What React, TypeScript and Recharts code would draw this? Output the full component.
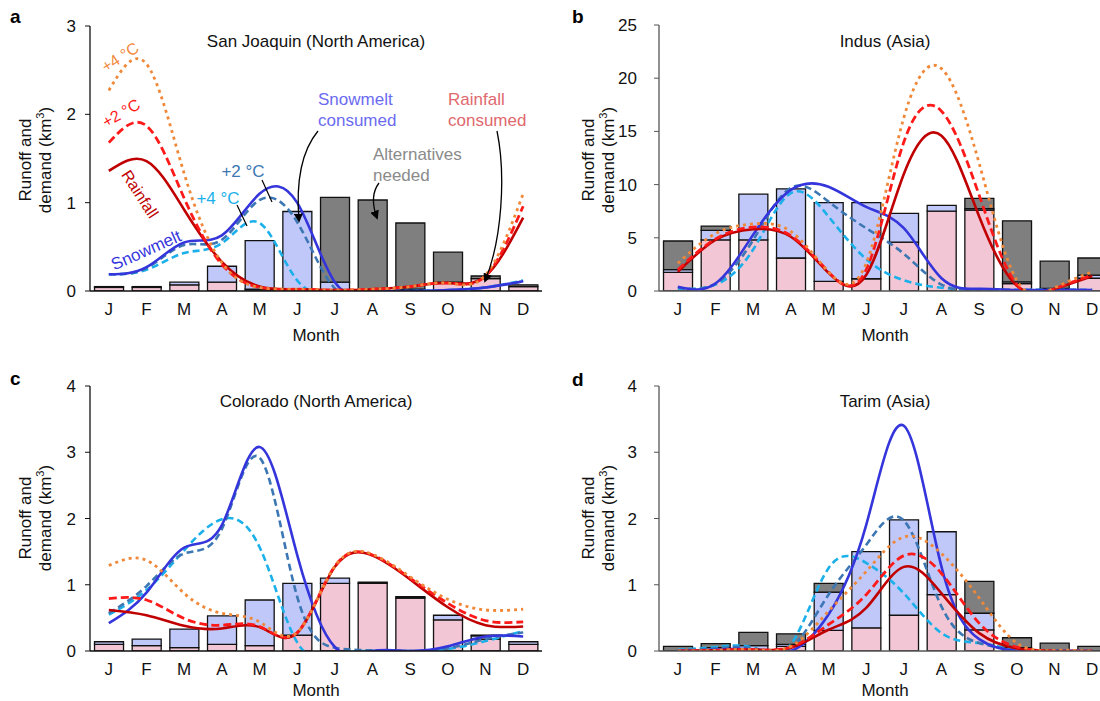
import React from 'react';
import { ComposedChart, Bar, Line, XAxis, YAxis } from 'recharts';

const months = ['J', 'F', 'M', 'A', 'M', 'J', 'J', 'A', 'S', 'O', 'N', 'D'];

// Panel a – San Joaquin (North America)
const aRainConsumed = [0.04, 0.04, 0.07, 0.10, 0.02, 0.00, 0.01, 0.01, 0.02, 0.09, 0.14, 0.05];
const aSnowConsumed = [0.00, 0.00, 0.03, 0.18, 0.55, 0.90, 0.09, 0.00, 0.00, 0.01, 0.00, 0.00];
const aAltNeeded = [0.01, 0.01, 0.00, 0.00, 0.00, 0.00, 0.96, 1.02, 0.75, 0.34, 0.03, 0.02];
const aRainHist = [1.36, 1.47, 0.92, 0.33, 0.05, 0.02, 0.01, 0.02, 0.05, 0.09, 0.17, 0.83];
const aRain2 = [1.68, 1.87, 1.05, 0.30, 0.04, 0.02, 0.01, 0.02, 0.05, 0.09, 0.17, 0.96];
const aRain4 = [2.27, 2.57, 1.33, 0.32, 0.04, 0.02, 0.01, 0.02, 0.05, 0.09, 0.18, 1.10];
const aSnowHist = [0.19, 0.27, 0.55, 0.63, 1.10, 1.00, 0.10, -0.02, 0.00, 0.01, 0.04, 0.11];
const aSnow2 = [0.19, 0.26, 0.52, 0.58, 1.03, 0.78, 0.03, -0.01, 0.00, 0.01, 0.04, 0.11];
const aSnow4 = [0.19, 0.24, 0.43, 0.54, 0.77, 0.12, -0.01, -0.01, 0.00, 0.01, 0.04, 0.12];

// Panel b – Indus (Asia)
const bRainConsumed = [1.75, 4.8, 4.8, 3.1, 0.9, 1.15, 4.6, 7.5, 7.6, 0.7, 0.2, 1.2];
const bSnowConsumed = [0.25, 0.9, 4.3, 6.5, 7.4, 7.15, 2.7, 0.55, 0.15, 0.15, 0.05, 0.3];
const bAltNeeded = [2.7, 0.4, 0, 0, 0, 0, 0, 0, 0.95, 5.75, 2.55, 1.6];
const bRainHist = [1.8, 4.8, 5.8, 5.1, 1.7, 1.5, 11.0, 14.6, 7.0, 0.5, 0.2, 1.4];
const bRain2 = [2.0, 4.9, 6.0, 5.2, 1.8, 2.0, 14.0, 16.9, 9.0, 0.6, 0.2, 1.5];
const bRain4 = [2.6, 5.4, 6.3, 5.6, 1.8, 2.6, 16.3, 20.9, 12.0, 1.0, 0.3, 1.8];
const bSnowHist = [0.4, 0.7, 5.3, 9.5, 9.8, 7.9, 5.9, 1.2, 0.2, 0.1, 0.1, 0.1];
const bSnow2 = [0.3, 0.7, 4.8, 9.7, 8.4, 5.9, 3.5, 0.6, 0.1, 0.1, 0.1, 0.1];
const bSnow4 = [0.2, 0.6, 3.9, 9.2, 7.0, 3.0, 1.0, 0.3, 0.1, 0.1, 0.1, 0.1];

// Panel c – Colorado (North America)
const cRainConsumed = [0.10, 0.08, 0.05, 0.10, 0.08, 0.24, 1.02, 1.02, 0.80, 0.47, 0.18, 0.10];
const cSnowConsumed = [0.04, 0.10, 0.28, 0.43, 0.69, 0.78, 0.08, 0.00, 0.00, 0.07, 0.05, 0.04];
const cAltNeeded = [0, 0, 0, 0, 0, 0, 0, 0.02, 0.02, 0, 0.01, 0];
const cRainHist = [0.62, 0.54, 0.38, 0.34, 0.36, 0.27, 1.27, 1.44, 1.08, 0.66, 0.39, 0.37];
const cRain2 = [0.79, 0.77, 0.49, 0.39, 0.37, 0.28, 1.28, 1.45, 1.10, 0.72, 0.46, 0.44];
const cRain4 = [1.29, 1.37, 0.87, 0.57, 0.44, 0.28, 1.28, 1.46, 1.12, 0.78, 0.62, 0.63];
const cSnowHist = [0.42, 0.88, 1.56, 1.90, 3.08, 1.45, 0.06, 0.00, 0.00, 0.07, 0.22, 0.22];
const cSnow2 = [0.57, 0.98, 1.47, 1.84, 2.92, 0.82, 0.05, 0.01, 0.00, 0.04, 0.18, 0.28];
const cSnow4 = [0.55, 0.92, 1.52, 1.99, 1.57, 0.13, -0.05, 0.00, 0.00, 0.03, 0.15, 0.30];

// Panel d – Tarim (Asia)
const dRainConsumed = [0, 0, 0, 0.07, 0.31, 0.35, 0.54, 0.85, 0.32, 0.05, 0, 0];
const dSnowConsumed = [0, 0.05, 0.08, 0.03, 0.58, 1.15, 1.44, 0.95, 0.25, 0, 0, 0];
const dAltNeeded = [0.07, 0.06, 0.20, 0.16, 0.13, 0, 0, 0, 0.48, 0.15, 0.12, 0.07];
const dRainHist = [0.0, 0.01, 0.02, 0.05, 0.32, 0.65, 1.27, 0.87, 0.27, 0.04, 0.0, 0.0];
const dRain2 = [0.0, 0.01, 0.02, 0.06, 0.40, 0.85, 1.44, 1.17, 0.42, 0.06, 0.0, 0.0];
const dRain4 = [0.0, 0.01, 0.02, 0.07, 0.60, 1.20, 1.72, 1.47, 0.80, 0.12, 0.01, 0.0];
const dSnowHist = [0.0, 0.02, 0.02, 0.0, 0.55, 1.90, 3.40, 1.27, 0.18, 0.0, 0.0, 0.0];
const dSnow2 = [0.01, 0.04, 0.04, 0.05, 0.85, 1.60, 1.97, 0.67, 0.12, 0.02, 0.0, 0.0];
const dSnow4 = [0.02, 0.06, 0.05, 0.10, 1.25, 1.33, 0.87, 0.27, 0.12, 0.02, 0.01, 0.01];

const aTicks = [0, 1, 2, 3];
const bTicks = [0, 5, 10, 15, 20, 25];
const cTicks = [0, 1, 2, 3, 4];
const dTicks = [0, 1, 2, 3, 4];

const PINK = '#f2c6d4';
const LAV = '#c0c8f9';
const GRAY = '#7f7f7f';
const DARKRED = '#c00000';
const RED = '#ff1a1a';
const ORANGE = '#f0883a';
const BLUE = '#3535dc';
const STEEL = '#3c77b4';
const CYAN = '#1bb0ea';
const FONT = '"Liberation Sans", Arial, Helvetica, sans-serif';

function buildRows(rc: number[], sc: number[], alt: number[], rh: number[], r2: number[], r4: number[], sh: number[], s2: number[], s4: number[]) {
  return months.map((m, i) => ({ m, rc: rc[i], sc: sc[i], alt: alt[i], rh: rh[i], r2: r2[i], r4: r4[i], sh: sh[i], s2: s2[i], s4: s4[i] }));
}

const aRows = buildRows(aRainConsumed, aSnowConsumed, aAltNeeded, aRainHist, aRain2, aRain4, aSnowHist, aSnow2, aSnow4);
const bRows = buildRows(bRainConsumed, bSnowConsumed, bAltNeeded, bRainHist, bRain2, bRain4, bSnowHist, bSnow2, bSnow4);
const cRows = buildRows(cRainConsumed, cSnowConsumed, cAltNeeded, cRainHist, cRain2, cRain4, cSnowHist, cSnow2, cSnow4);
const dRows = buildRows(dRainConsumed, dSnowConsumed, dAltNeeded, dRainHist, dRain2, dRain4, dSnowHist, dSnow2, dSnow4);

type PanelProps = {
  left: number; top: number; width: number; height: number;
  margin: { top: number; right: number; bottom: number; left: number };
  yWidth: number; domain: [number, number]; ticks: number[]; tickMargin: number;
  rows: any[]; frame: string; axis: string;
};

function Panel(p: PanelProps) {
  const lineCommon = { type: 'natural' as const, dot: false, activeDot: false, isAnimationActive: false };
  return (
    <div style={{ position: 'absolute', left: p.left, top: p.top }}>
      <ComposedChart width={p.width} height={p.height} data={p.rows} margin={p.margin} barCategoryGap="12%">
        <XAxis dataKey="m" interval={0} tickLine={false} tickSize={6} tickMargin={6} height={30}
          axisLine={{ stroke: p.axis, strokeWidth: 1.3 }} tick={{ fontSize: 17, fill: '#111' }} />
        <XAxis xAxisId="top" orientation="top" dataKey="m" height={0} tick={false} tickLine={false}
          axisLine={{ stroke: p.frame, strokeWidth: 1.3 }} />
        <YAxis domain={p.domain} ticks={p.ticks} interval={0} allowDataOverflow width={p.yWidth} tickSize={5}
          tickMargin={p.tickMargin} tick={{ fontSize: 17, fill: '#111' }}
          axisLine={{ stroke: p.axis, strokeWidth: 1.3 }} tickLine={{ stroke: p.axis }} />
        <YAxis yAxisId="r" orientation="right" width={0} tick={false} tickLine={false}
          axisLine={{ stroke: p.frame, strokeWidth: 1.3 }} />
        <Bar dataKey="rc" stackId="s" fill={PINK} stroke="#111" strokeWidth={1.3} isAnimationActive={false} />
        <Bar dataKey="sc" stackId="s" fill={LAV} stroke="#111" strokeWidth={1.3} isAnimationActive={false} />
        <Bar dataKey="alt" stackId="s" fill={GRAY} stroke="#111" strokeWidth={1.3} isAnimationActive={false} />
        <Line {...lineCommon} dataKey="s4" stroke={CYAN} strokeWidth={2.6} strokeDasharray="7 4" />
        <Line {...lineCommon} dataKey="s2" stroke={STEEL} strokeWidth={2.6} strokeDasharray="7 4" />
        <Line {...lineCommon} dataKey="sh" stroke={BLUE} strokeWidth={2.6} />
        <Line {...lineCommon} dataKey="rh" stroke={DARKRED} strokeWidth={2.6} />
        <Line {...lineCommon} dataKey="r2" stroke={RED} strokeWidth={2.8} strokeDasharray="8 4" />
        <Line {...lineCommon} dataKey="r4" stroke={ORANGE} strokeWidth={2.8} strokeDasharray="3 4" />
      </ComposedChart>
    </div>
  );
}

function RText(props: { x: number; y: number; rot?: number; fill: string; size?: number; children: React.ReactNode; anchor?: 'start' | 'middle' | 'end' }) {
  const { x, y, rot = 0, fill, size = 17, anchor = 'middle' } = props;
  return (
    <text x={x} y={y} dy="0.35em" textAnchor={anchor} fill={fill} fontSize={size}
      transform={rot ? `rotate(${rot} ${x} ${y})` : undefined}>{props.children}</text>
  );
}

function YLabel({ x1, x2, y }: { x1: number; x2: number; y: number }) {
  return (
    <g>
      <RText x={x1} y={y} rot={-90} fill="#111">Runoff and</RText>
      <text x={x2} y={y} dy="0.35em" textAnchor="middle" fill="#111" fontSize={17} transform={`rotate(-90 ${x2} ${y})`}>
        demand (km<tspan dy="-7" fontSize={11}>3</tspan><tspan dy="7">)</tspan>
      </text>
    </g>
  );
}

function Overlay() {
  return (
    <svg width={1100} height={701} style={{ position: 'absolute', left: 0, top: 0, pointerEvents: 'none' }}>
      <defs>
        <marker id="ah" viewBox="0 0 10 10" refX="8" refY="5" markerWidth="7" markerHeight="7" orient="auto-start-reverse">
          <path d="M0,0 L10,5 L0,10 z" fill="#000" />
        </marker>
      </defs>
      {/* panel letters */}
      <text x={10} y={23} fontSize={19} fontWeight="bold" fill="#000">a</text>
      <text x={572} y={23} fontSize={19} fontWeight="bold" fill="#000">b</text>
      <text x={10} y={385} fontSize={19} fontWeight="bold" fill="#000">c</text>
      <text x={572} y={386} fontSize={19} fontWeight="bold" fill="#000">d</text>

      {/* titles */}
      <text x={316} y={47} textAnchor="middle" fontSize={17} fill="#111">San Joaquin (North America)</text>
      <text x={885} y={47} textAnchor="middle" fontSize={17} fill="#111">Indus (Asia)</text>
      <text x={316} y={407} textAnchor="middle" fontSize={17} fill="#111">Colorado (North America)</text>
      <text x={885} y={407} textAnchor="middle" fontSize={17} fill="#111">Tarim (Asia)</text>

      {/* axis titles */}
      <YLabel x1={25} x2={45} y={160} />
      <YLabel x1={588} x2={608} y={160} />
      <YLabel x1={25} x2={45} y={518} />
      <YLabel x1={588} x2={608} y={518} />
      <text x={316} y={341} textAnchor="middle" fontSize={17} fill="#111">Month</text>
      <text x={885} y={341} textAnchor="middle" fontSize={17} fill="#111">Month</text>
      <text x={316} y={696} textAnchor="middle" fontSize={17} fill="#111">Month</text>
      <text x={885} y={696} textAnchor="middle" fontSize={17} fill="#111">Month</text>

      {/* panel a annotations */}
      <RText x={120} y={57} rot={-33} fill={ORANGE} size={16}>+4 °C</RText>
      <RText x={121} y={113} rot={-30} fill={RED} size={16}>+2 °C</RText>
      <RText x={140} y={194} rot={57} fill={DARKRED} size={16}>Rainfall</RText>
      <RText x={146} y={250} rot={-24} fill={BLUE} size={17}>Snowmelt</RText>
      <RText x={243} y={171} fill={STEEL} size={17}>+2 °C</RText>
      <RText x={218} y={198} fill={CYAN} size={17}>+4 °C</RText>
      <line x1={262} y1={180} x2={272} y2={202} stroke="#000" strokeWidth={1.2} />
      <line x1={237} y1={205} x2={247} y2={226} stroke="#000" strokeWidth={1.2} />

      <RText x={318} y={99} anchor="start" fill="#6b6bf0">Snowmelt</RText>
      <RText x={318} y={120} anchor="start" fill="#6b6bf0">consumed</RText>
      <RText x={448} y={99} anchor="start" fill="#e0686e">Rainfall</RText>
      <RText x={448} y={120} anchor="start" fill="#e0686e">consumed</RText>
      <RText x={373} y={154} anchor="start" fill="#8a8a8a">Alternatives</RText>
      <RText x={373} y={175} anchor="start" fill="#8a8a8a">needed</RText>

      <path d="M318,131 Q294,160 299,221" fill="none" stroke="#000" strokeWidth={1.3} markerEnd="url(#ah)" />
      <path d="M379,183 Q369,196 377,218" fill="none" stroke="#000" strokeWidth={1.3} markerEnd="url(#ah)" />
      <path d="M497,131 C506,175 502,240 485,281" fill="none" stroke="#000" strokeWidth={1.3} markerEnd="url(#ah)" />
    </svg>
  );
}

export default function App() {
  return (
    <div style={{ position: 'fixed', left: 0, top: 0, width: 1100, height: 701, overflow: 'hidden', background: '#fff', fontFamily: FONT }}>
      <Panel left={0} top={0} width={550} height={350} margin={{ top: 26, right: 8, bottom: 29, left: 0 }}
        yWidth={90} domain={[0, 3]} ticks={aTicks} tickMargin={9} rows={aRows} frame="#111" axis="#111" />
      <Panel left={550} top={0} width={570} height={350} margin={{ top: 25, right: 9, bottom: 29, left: 0 }}
        yWidth={109} domain={[0, 25]} ticks={bTicks} tickMargin={17} rows={bRows} frame="#666" axis="#555" />
      <Panel left={0} top={360} width={550} height={341} margin={{ top: 26, right: 8, bottom: 20, left: 0 }}
        yWidth={90} domain={[0, 4]} ticks={cTicks} tickMargin={9} rows={cRows} frame="#111" axis="#111" />
      <Panel left={550} top={360} width={570} height={341} margin={{ top: 26, right: 9, bottom: 20, left: 0 }}
        yWidth={109} domain={[0, 4]} ticks={dTicks} tickMargin={17} rows={dRows} frame="#666" axis="#555" />
      <Overlay />
    </div>
  );
}
